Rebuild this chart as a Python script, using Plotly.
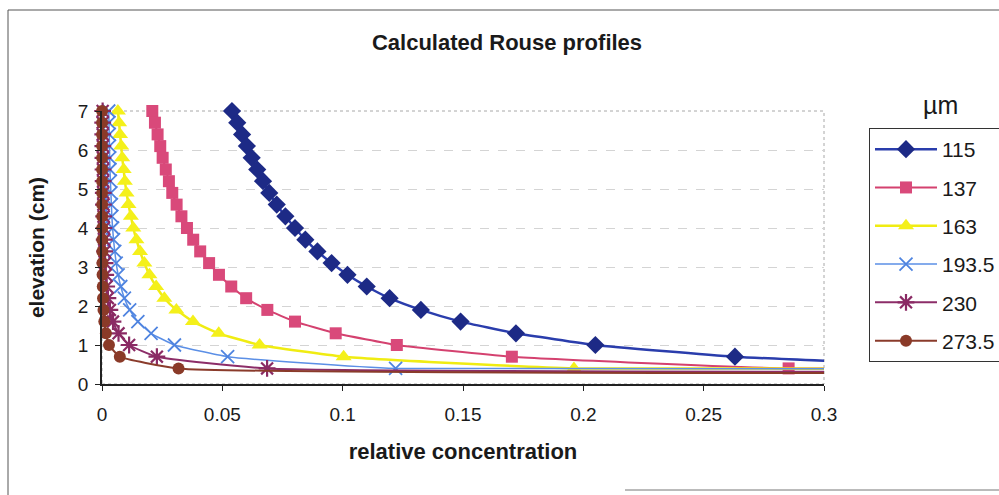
import plotly.graph_objects as go

# Elevation above the bed (cm); the last level is the reference height
elevation_cm = [7.0, 6.7, 6.4, 6.1, 5.8, 5.5, 5.2, 4.9, 4.6, 4.3, 4.0, 3.7,
                3.4, 3.1, 2.8, 2.5, 2.2, 1.9, 1.6, 1.3, 1.0, 0.7, 0.4, 0.35]

# Relative concentration C/Ca for each grain size (µm)
conc_115 = [0.0540, 0.0562, 0.0582, 0.0602, 0.0622, 0.0645, 0.0669, 0.0695,
            0.0726, 0.0762, 0.0802, 0.0845, 0.0895, 0.0954, 0.1020, 0.1100,
            0.1195, 0.1325, 0.1490, 0.1720, 0.2050, 0.2630, 0.3880, 1.0]
conc_137 = [0.0209, 0.0220, 0.0231, 0.0242, 0.0252, 0.0265, 0.0278, 0.0292,
            0.0310, 0.0330, 0.0353, 0.0379, 0.0408, 0.0445, 0.0486, 0.0537,
            0.0599, 0.0687, 0.0802, 0.0971, 0.1225, 0.1703, 0.2853, 1.0]
conc_163 = [0.0066, 0.0071, 0.0075, 0.0080, 0.0084, 0.0090, 0.0095, 0.0102,
            0.0110, 0.0120, 0.0130, 0.0143, 0.0158, 0.0176, 0.0197, 0.0225,
            0.0259, 0.0309, 0.0378, 0.0485, 0.0655, 0.1004, 0.1961, 1.0]
conc_193_5 = [0.0028, 0.0029, 0.0030, 0.0031, 0.0032, 0.0033, 0.0035, 0.0037,
              0.0039, 0.0041, 0.0044, 0.0048, 0.0053, 0.0059, 0.0067, 0.0078,
              0.0093, 0.0115, 0.0149, 0.0204, 0.0301, 0.0522, 0.1220, 1.0]
conc_230 = [0.00026, 0.00029, 0.00032, 0.00035, 0.00039, 0.00043, 0.00047,
            0.00053, 0.00060, 0.00069, 0.00079, 0.00092, 0.00108, 0.00129,
            0.00156, 0.00194, 0.00245, 0.00328, 0.00457, 0.00687, 0.01127,
            0.0228, 0.0686, 1.0]
conc_273_5 = [0.00002, 0.00003, 0.00003, 0.00004, 0.00004, 0.00005, 0.00005,
              0.00006, 0.00007, 0.00008, 0.00010, 0.00012, 0.00015, 0.00019,
              0.00024, 0.00032, 0.00043, 0.00063, 0.00096, 0.00162, 0.00290,
              0.00740, 0.0318, 1.0]

grain_labels = ["115", "137", "163", "193.5", "230", "273.5"]
x_ticks = [0, 0.05, 0.1, 0.15, 0.2, 0.25, 0.3]
x_tick_text = ["0", "0.05", "0.1", "0.15", "0.2", "0.25", "0.3"]
y_ticks = [0, 1, 2, 3, 4, 5, 6, 7]

series = [conc_115, conc_137, conc_163, conc_193_5, conc_230, conc_273_5]
styles = [
    dict(line="#2a3dac", marker="#1d2a86", symbol="diamond", size=14, lw=2.5, mlw=0),
    dict(line="#d4416f", marker="#d9497a", symbol="square", size=12, lw=2, mlw=0),
    dict(line="#f0ec12", marker="#f4f01a", symbol="triangle-up", size=14, lw=2.5, mlw=0),
    dict(line="#5b8fe6", marker="#4f84e0", symbol="x-thin-open", size=13, lw=1.5, mlw=1.8),
    dict(line="#8c2d68", marker="#8a2a64", symbol="asterisk-open", size=14, lw=2, mlw=2.2),
    dict(line="#8a3b2b", marker="#8a3a28", symbol="circle", size=12, lw=2, mlw=0),
]

FONT = "Liberation Sans, Arial, sans-serif"

fig = go.Figure()
for vals, st, name in zip(series, styles, grain_labels):
    fig.add_trace(go.Scatter(
        x=vals, y=elevation_cm, name=name, legendgroup=name,
        mode="lines+markers",
        line=dict(color=st["line"], width=st["lw"], shape="spline", smoothing=0.4),
        marker=dict(symbol=st["symbol"], size=st["size"], color=st["marker"],
                    line=dict(color=st["marker"], width=st["mlw"])),
        cliponaxis=False,
    ))

# Plot-area geometry in pixels
W, H = 999, 495
L, R, T, B = 102, 824, 111, 384


def px_x(p):
    return (p - L) / (R - L)


def px_y(p):
    return (B - p) / (B - T)


shapes = [
    # faint plot-area border
    dict(type="rect", xref="paper", yref="paper", x0=0, x1=1, y0=0, y1=1,
         line=dict(color="#a8a8a8", width=1, dash="dot"), layer="below"),
    # outer chart frame
    dict(type="line", xref="paper", yref="paper", x0=px_x(8), x1=px_x(1010),
         y0=px_y(10), y1=px_y(10), line=dict(color="#555555", width=1)),
    dict(type="line", xref="paper", yref="paper", x0=px_x(8), x1=px_x(8),
         y0=px_y(10), y1=px_y(500), line=dict(color="#555555", width=1)),
    dict(type="line", xref="paper", yref="paper", x0=px_x(625), x1=px_x(1010),
         y0=px_y(490), y1=px_y(490), line=dict(color="#777777", width=1)),
]

fig.update_layout(
    width=W, height=H,
    margin=dict(l=L, r=W - R, t=T, b=H - B, autoexpand=False),
    paper_bgcolor="white", plot_bgcolor="white",
    font=dict(family=FONT, color="#1a1a1a"),
    title=dict(text="<b>Calculated Rouse profiles</b>", x=507 / W, xref="container",
               y=1 - 42 / H, yref="container", xanchor="center", yanchor="middle",
               font=dict(size=22, family=FONT, color="#1a1a1a")),
    xaxis=dict(range=[0, 0.3], tickvals=x_ticks, ticktext=x_tick_text,
               showgrid=False, zeroline=False, showline=True, linecolor="#222222",
               linewidth=1.5, ticks="outside", ticklen=5, tickcolor="#222222",
               tickfont=dict(size=19, family=FONT, color="#1a1a1a"),
               ticklabelstandoff=7,
               title=dict(text="<b>relative concentration</b>", standoff=20,
                          font=dict(size=22, family=FONT, color="#1a1a1a"))),
    yaxis=dict(range=[0, 7], tickvals=y_ticks,
               showgrid=True, gridcolor="#d4d4d4", griddash="dash", gridwidth=1,
               zeroline=False, showline=True, linecolor="#222222",
               linewidth=1.5, ticks="outside", ticklen=5, tickcolor="#222222",
               tickfont=dict(size=19, family=FONT, color="#1a1a1a"),
               ticklabelstandoff=3,
               title=dict(text="<b>elevation (cm)</b>", standoff=28,
                          font=dict(size=21, family=FONT, color="#1a1a1a"))),
    legend=dict(x=px_x(869), y=px_y(128), xanchor="left", yanchor="top",
                bordercolor="#333333", borderwidth=1, bgcolor="white",
                font=dict(size=21, family=FONT, color="#1a1a1a"),
                tracegroupgap=8, itemwidth=62),
    shapes=shapes,
    annotations=[dict(text="µm", xref="paper", yref="paper", x=px_x(940), y=px_y(105),
                      showarrow=False, xanchor="center", yanchor="middle",
                      font=dict(size=25, family=FONT, color="#1a1a1a"))],
)

fig.write_html("out.html")
